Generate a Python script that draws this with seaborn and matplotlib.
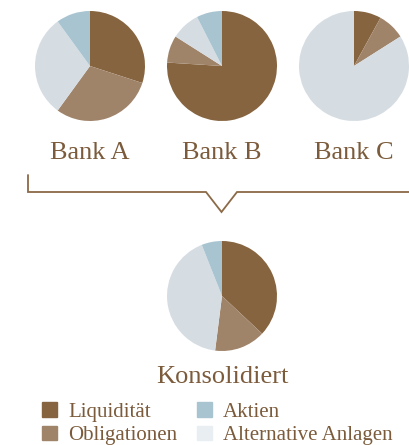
import seaborn as sns
import matplotlib.pyplot as plt
import matplotlib.patches as mpatches

# data
categories = ["Liquidität", "Obligationen", "Alternative Anlagen", "Aktien"]
bank_a = [30, 30, 30, 10]
bank_b = [76, 8, 8.5, 7.5]
bank_c = [8, 8, 84, 0]
konsolidiert = [37, 15, 42, 6]
bank_labels = ["Bank A", "Bank B", "Bank C"]

colors = ["#86643f", "#a0846a", "#d5dde3", "#a9c4d1"]
legend_colors = {"Liquidität": "#86643f", "Obligationen": "#a0846a",
                 "Aktien": "#a9c4d1", "Alternative Anlagen": "#e8eef2"}
text_color = "#7b5b3b"

sns.set_style("white")
plt.rcParams["font.family"] = ["Liberation Serif", "DejaVu Serif"]

W, H = 409, 445
fig = plt.figure(figsize=(W / 100, H / 100), dpi=100)
ax = fig.add_axes([0, 0, 1, 1])

# pies, positions in pixels (y measured from top)
r = 55
for vals, cx, lab in zip([bank_a, bank_b, bank_c], [90, 222, 354], bank_labels):
    ax.pie(vals, colors=colors, startangle=90, counterclock=False,
           center=(cx, H - 66), radius=r, wedgeprops=dict(linewidth=0))
    ax.text(cx, H - 153, lab, ha="center", va="center", fontsize=19, color=text_color)

ax.pie(konsolidiert, colors=colors, startangle=90, counterclock=False,
       center=(222, H - 296), radius=r, wedgeprops=dict(linewidth=0))
ax.text(222, H - 377, "Konsolidiert", ha="center", va="center", fontsize=19, color=text_color)

# bracket
bx = [28, 28, 206, 221.5, 237, 409]
by = [175, 192, 192, 212, 192, 192]
ax.plot(bx, [H - y for y in by], color="#8b6a48", lw=1.3, solid_joinstyle="miter")

ax.set_xlim(0, W)
ax.set_ylim(0, H)
ax.set_aspect("equal")
ax.axis("off")

order = ["Liquidität", "Obligationen", "Aktien", "Alternative Anlagen"]
handles = [mpatches.Patch(color=legend_colors[c], label=c) for c in order]
leg = fig.legend(handles=handles, ncol=2, loc="upper left",
                 bbox_to_anchor=(42 / W, 1 - 402 / H), frameon=False,
                 fontsize=15, handlelength=0.7, handleheight=0.7,
                 handletextpad=0.55, columnspacing=0.95, labelspacing=0.2,
                 borderpad=0, borderaxespad=0)
for t in leg.get_texts():
    t.set_color(text_color)

fig.savefig("out.png", dpi=100)
